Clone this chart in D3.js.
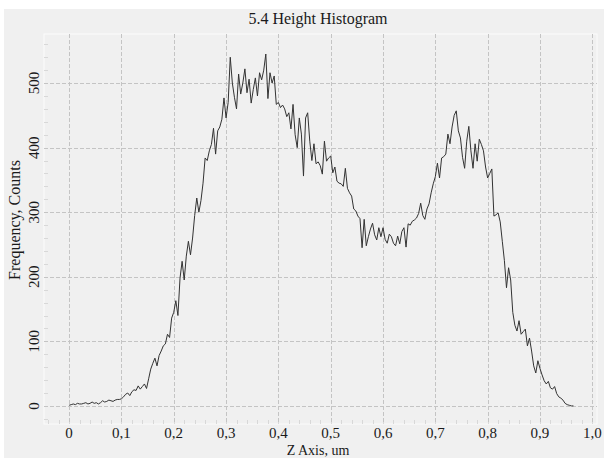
<!DOCTYPE html>
<html>
<head>
<meta charset="utf-8">
<script src="https://cdn.jsdelivr.net/npm/d3@7"></script>
<style>
  html, body { margin: 0; padding: 0; background: #ffffff; }
  svg { display: block; }
  text { font-family: "Liberation Serif", "Times New Roman", serif; fill: #1a1a1a; }
</style>
</head>
<body>
<svg id="chart"></svg>
<script>
// histogram bins: start at 0, one count every binWidth um
var binStart = 0, binWidth = 0.004;
var counts = [
  1, 2, 3, 2, 4, 3, 3, 4, 5, 3, 4, 6, 4, 5, 3, 5, 8, 6, 7, 9, 8, 7, 9, 10, 10,
  11, 14, 18, 20, 16, 22, 25, 24, 31, 26, 30, 34, 27, 42, 57, 66, 74, 62, 78, 85,
  93, 96, 111, 106, 136, 145, 163, 140, 198, 224, 195, 232, 255, 234, 260,
  295, 322, 300, 318, 345, 384, 380, 395, 405, 430, 390, 426, 432, 444, 477,
  446, 470, 540, 500, 478, 460, 514, 483, 500, 522, 485, 506, 469, 490, 508,
  480, 516, 505, 520, 545, 476, 516, 500, 511, 467, 470, 462, 466, 460, 448,
  454, 429, 467, 420, 400, 446, 421, 356, 446, 454, 410, 380, 406, 375, 378,
  372, 359, 410, 379, 384, 387, 361, 370, 348, 345, 344, 340, 368, 337, 330,
  325, 305, 302, 294, 290, 245, 289, 248, 262, 274, 283, 265, 257, 276, 262,
  276, 258, 252, 266, 262, 252, 248, 263, 251, 270, 276, 246, 282, 280, 286,
  288, 291, 298, 314, 295, 289, 305, 313, 330, 344, 355, 376, 353, 384, 386,
  390, 421, 406, 432, 450, 457, 426, 415, 385, 368, 410, 433, 395, 368, 406,
  379, 413, 405, 395, 370, 353, 360, 367, 294, 296, 299, 285, 255, 225, 183,
  214, 195, 145, 125, 116, 132, 111, 115, 119, 93, 105, 85, 62, 51, 70,
  58, 48, 39, 34, 38, 28, 26, 30, 19, 14, 12, 9, 4, 2, 1, 0, 0
];
var xTicks = [0, 0.1, 0.2, 0.3, 0.4, 0.5, 0.6, 0.7, 0.8, 0.9, 1.0];
var yTicks = [0, 100, 200, 300, 400, 500];
var title = "5.4 Height Histogram";
var xLabel = "Z Axis, um";
var yLabel = "Frequency, Counts";

var width = 604, height = 458;
var plot = {left: 44, top: 34, right: 597, bottom: 424};

var svg = d3.select("#chart").attr("width", width).attr("height", height);

// grey panel, white strip on top and left
svg.append("rect").attr("x", 0).attr("y", 0).attr("width", width).attr("height", height).attr("fill", "#ffffff");
svg.append("rect").attr("x", 4).attr("y", 9).attr("width", width - 4).attr("height", height - 9).attr("fill", "#f0f0f0");

var x = d3.scaleLinear().domain([-0.048, 1.009]).range([plot.left, plot.right]);
var y = d3.scaleLinear().domain([-28, 576]).range([plot.bottom, plot.top]);

svg.append("rect")
    .attr("x", plot.left).attr("y", plot.top)
    .attr("width", plot.right - plot.left).attr("height", plot.bottom - plot.top)
    .attr("fill", "#f0f0f0")
    .attr("stroke", "#fbfbfb").attr("stroke-width", 1);

// minor ticks along the left and bottom edges
var g = svg.append("g");
g.selectAll(".minorY").data(d3.range(-20, 576, 20)).enter().append("line")
    .attr("x1", plot.left).attr("x2", plot.left + 4)
    .attr("y1", function(d){ return Math.round(y(d)) + 0.5; })
    .attr("y2", function(d){ return Math.round(y(d)) + 0.5; })
    .attr("stroke", "#d8d8d8");
g.selectAll(".minorX").data(d3.range(-0.04, 1.01, 0.02)).enter().append("line")
    .attr("y1", plot.bottom).attr("y2", plot.bottom - 4)
    .attr("x1", function(d){ return Math.round(x(d)) + 0.5; })
    .attr("x2", function(d){ return Math.round(x(d)) + 0.5; })
    .attr("stroke", "#d8d8d8");

// dashed grid
g.selectAll(".gridX").data(xTicks).enter().append("line")
    .attr("x1", function(d){ return Math.round(x(d)) + 0.5; })
    .attr("x2", function(d){ return Math.round(x(d)) + 0.5; })
    .attr("y1", plot.top).attr("y2", plot.bottom)
    .attr("stroke", "#c4c4c4").attr("stroke-dasharray", "4,2");
g.selectAll(".gridY").data(yTicks).enter().append("line")
    .attr("y1", function(d){ return Math.round(y(d)) + 0.5; })
    .attr("y2", function(d){ return Math.round(y(d)) + 0.5; })
    .attr("x1", plot.left).attr("x2", plot.right)
    .attr("stroke", "#c4c4c4").attr("stroke-dasharray", "4,2");

// tick labels
svg.selectAll(".xlab").data(xTicks).enter().append("text")
    .attr("x", function(d){ return x(d); })
    .attr("y", 438)
    .attr("text-anchor", "middle")
    .style("font-size", "15px")
    .text(function(d){ return d === 0 ? "0" : d3.format(".1f")(d).replace(".", ","); });
svg.selectAll(".ylab").data(yTicks).enter().append("text")
    .attr("transform", function(d){ return "translate(39," + y(d) + ") rotate(-90)"; })
    .attr("text-anchor", "middle")
    .style("font-size", "15px")
    .text(function(d){ return d; });

// titles
svg.append("text").attr("x", 318).attr("y", 24)
    .attr("text-anchor", "middle").style("font-size", "16px").text(title);
svg.append("text").attr("x", 318).attr("y", 455)
    .attr("text-anchor", "middle").style("font-size", "14px").text(xLabel);
svg.append("text").attr("transform", "translate(20," + 220 + ") rotate(-90)")
    .attr("text-anchor", "middle").style("font-size", "16px").text(yLabel);

// the histogram line
var line = d3.line()
    .x(function(d, i){ return x(binStart + i * binWidth); })
    .y(function(d){ return y(d); });
svg.append("path")
    .datum(counts)
    .attr("d", line)
    .attr("fill", "none")
    .attr("stroke", "#333333")
    .attr("stroke-width", 1);
</script>
</body>
</html>
